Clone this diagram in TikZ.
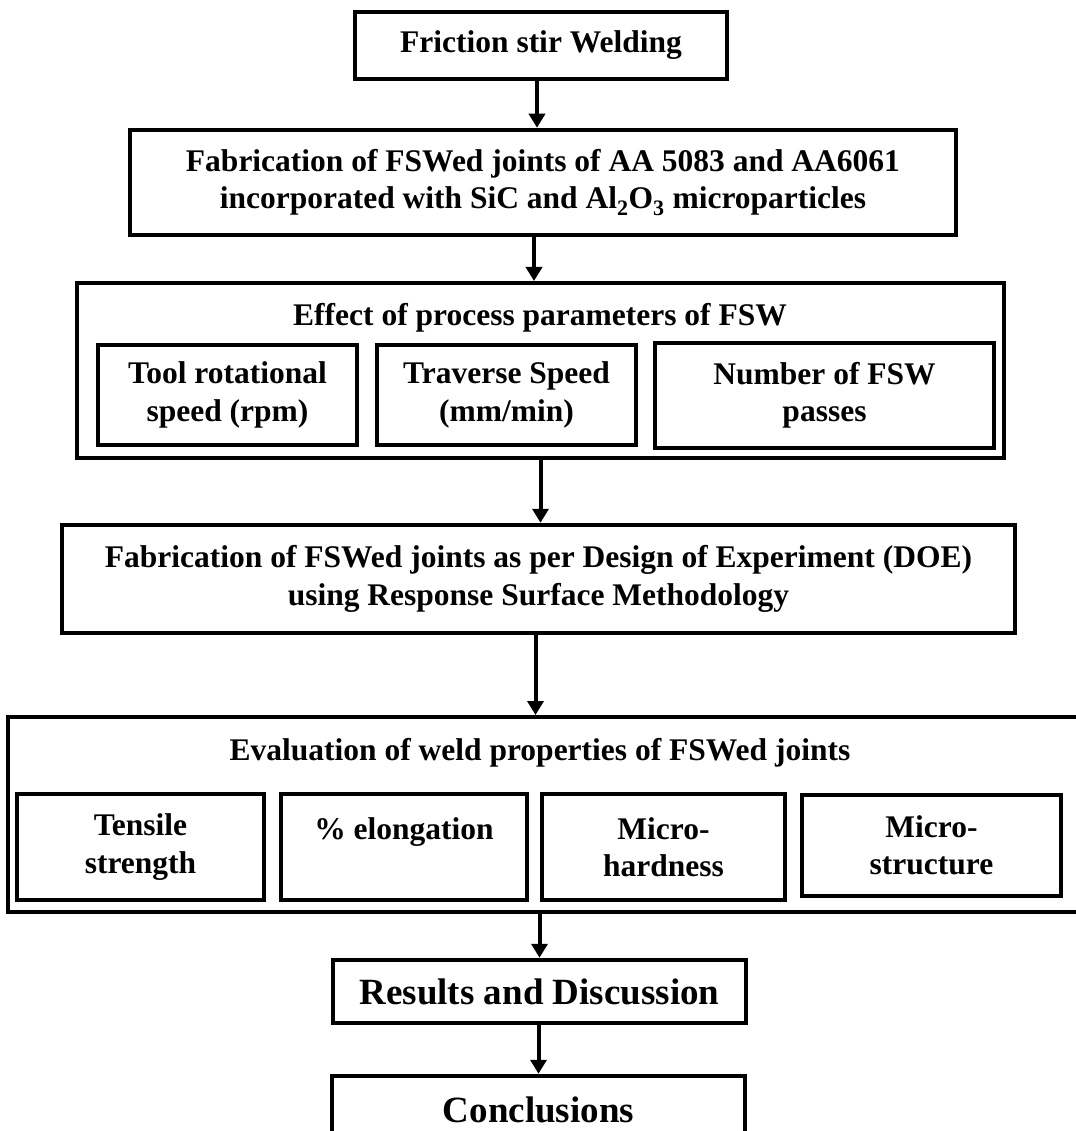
\documentclass[tikz,border=0pt]{standalone}
\usepackage{fontspec}
\setmainfont{Liberation Serif}
\usetikzlibrary{arrows.meta,calc}
\begin{document}
\begin{tikzpicture}[x=1pt,y=-1pt,
  box/.style={draw, line width=4.5pt, fill=white, inner sep=0pt, align=center,
    font=\fontsize{31.5}{37.5}\selectfont\bfseries},
  frame/.style={draw, line width=4pt, inner sep=0pt},
  lbl/.style={inner sep=0pt, align=center, font=\fontsize{31.5}{37.5}\selectfont\bfseries},
  big/.style={font=\fontsize{37}{44}\selectfont\bfseries},
  arr/.style={line width=4pt, -{Triangle[width=16pt,length=14pt]}}]
\useasboundingbox (0,0) rectangle (1075,1131);

% top boxes
\node[box, minimum width=372pt, minimum height=67pt] (b1) at (541,45.5) {Friction stir Welding};
\node[box, minimum width=826pt, minimum height=105pt] (b2) at (543,182.5)
  {Fabrication of FSWed joints of AA 5083 and AA6061\\incorporated with SiC and Al\textsubscript{2}O\textsubscript{3} microparticles};

% process parameters group
\node[frame, minimum width=927pt, minimum height=175pt] (eff) at (540.5,370.5) {};
\node[lbl] (effT) at (540,318) {Effect of process parameters of FSW};
\node[box, minimum width=259pt, minimum height=100pt] (iA) at (227.5,395) {Tool rotational\\speed (rpm)};
\node[box, minimum width=259pt, minimum height=100pt] (iB) at (506.5,395) {Traverse Speed\\(mm/min)};
\node[box, minimum width=339pt, minimum height=105pt] (iC) at (824.5,395.5) {Number of FSW\\passes};

% DOE
\node[box, minimum width=953pt, minimum height=108pt] (doe) at (538.5,579)
  {Fabrication of FSWed joints as per Design of Experiment (DOE)\\using Response Surface Methodology};

% evaluation group
\node[frame, minimum width=1077pt, minimum height=195pt] (eval) at (546.5,814.5) {};
\node[lbl] (evalT) at (540,753) {Evaluation of weld properties of FSWed joints};
\node[box, minimum width=247pt, minimum height=106pt] (e1) at (140.5,847) {Tensile\\strength};
\node[box, minimum width=246pt, minimum height=106pt] (e2) at (404,847) {\% elongation\\\phantom{x}};
\node[box, minimum width=243pt, minimum height=106pt] (e3) at (663.5,847) {Micro-\\hardness};
\node[box, minimum width=259pt, minimum height=101pt] (e4) at (931.5,845.5) {Micro-\\structure};

% results and conclusions
\node[box, big, minimum width=413pt, minimum height=63pt] (res) at (539.5,991.5) {Results and Discussion};
\node[box, big, minimum width=413pt, minimum height=68pt] (con) at (538.5,1110) {Conclusions};

% arrows
\draw[arr] ([xshift=-4pt]b1.south) -- ([xshift=-4pt]b1.south |- b2.north);
\draw[arr] ([xshift=-9pt]b2.south) -- ([xshift=-9pt]b2.south |- eff.north);
\draw[arr] (eff.south) -- (eff.south |- doe.north);
\draw[arr] ([xshift=-3pt]doe.south) -- ([xshift=-3pt]doe.south |- eval.north);
\draw[arr] (res.north |- eval.south) -- (res.north);
\draw[arr] ([xshift=-1pt]res.south) -- ([xshift=-1pt]res.south |- con.north);
\end{tikzpicture}
\end{document}
